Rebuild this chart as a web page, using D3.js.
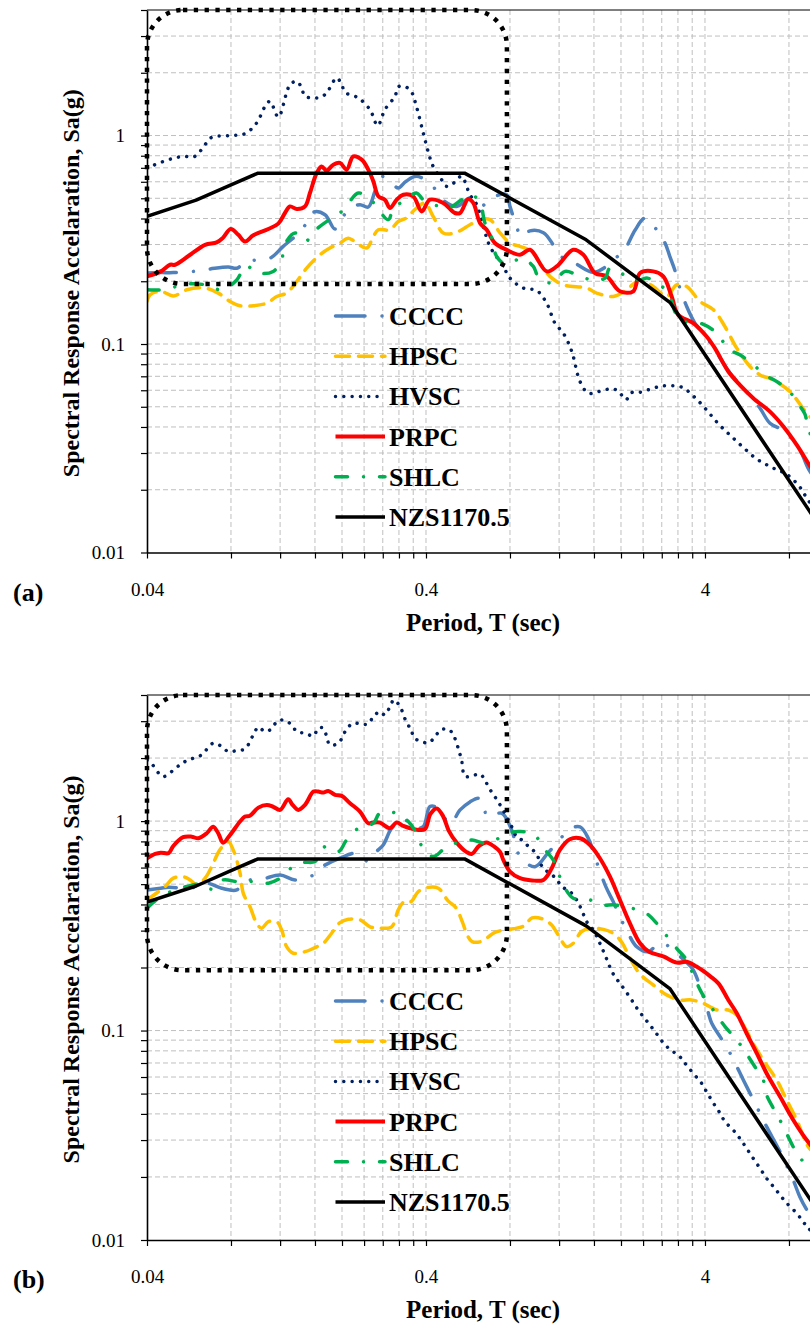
<!DOCTYPE html>
<html><head><meta charset="utf-8">
<script src="https://cdn.jsdelivr.net/npm/d3@7/dist/d3.min.js"></script>
<style>body{margin:0;background:#fff;} svg{display:block;}</style>
</head><body>
<svg id="c" width="810" height="1326"></svg>
<script>
// ---------- DATA ----------
const seriesNames = ["CCCC", "HPSC", "HVSC", "PRPC", "SHLC", "NZS1170.5"];
const periodTickLabels = ["0.04", "0.4", "4"];
const saTickLabels = ["0.01", "0.1", "1"];
const periodTickValues = [0.04, 0.4, 4];
const saTickValues = [0.01, 0.1, 1];
const xTitle = "Period, T (sec)";
const yTitle = "Spectral Response Accelaration, Sa(g)";
// highlighted period / Sa range (dotted rounded box)
const boxPeriod = [0.04, 0.78];
const boxSa = [0.194, 4];

// NZS1170.5 design spectrum (same in both panels)
const nzs = [[0.04,0.41],[0.06,0.49],[0.08,0.58],[0.1,0.66],[0.55,0.66],[1.5,0.316],[3,0.158],[10,0.0142]];

// Panel (a)
const ccccA = [[0.04,0.219],[0.0448,0.220],[0.0497,0.220],[0.0586,0.223],[0.0673,0.229],[0.0782,0.234],[0.0839,0.231],[0.091,0.249],[0.0962,0.252],[0.1104,0.258],[0.1231,0.294],[0.1377,0.334],[0.1494,0.380],[0.158,0.429],[0.1738,0.417],[0.1888,0.356],[0.202,0.409],[0.2137,0.449],[0.232,0.466],[0.2485,0.454],[0.2626,0.540],[0.2775,0.637],[0.3055,0.581],[0.3182,0.560],[0.3395,0.603],[0.370,0.637],[0.419,0.581],[0.455,0.496],[0.515,0.457],[0.575,0.502],[0.625,0.457],[0.706,0.511],[0.778,0.520],[0.80,0.457],[0.834,0.387],[0.881,0.327],[0.9435,0.349],[1.054,0.342],[1.143,0.299],[1.208,0.265],[1.368,0.244],[1.592,0.221],[1.826,0.2427],[1.983,0.271],[2.094,0.294],[2.245,0.351],[2.44,0.402],[2.685,0.353],[2.876,0.305],[2.999,0.261],[3.14,0.220],[3.25,0.1855],[3.44,0.1514],[3.68,0.126],[3.89,0.1145],[4.23,0.0991],[4.92,0.0725],[5.64,0.0591],[6.30,0.0492],[6.84,0.0417],[7.74,0.038],[8.75,0.031],[9.44,0.0249],[10,0.0225]];
const hpscA = [[0.04,0.160],[0.041,0.172],[0.0448,0.179],[0.0497,0.170],[0.0555,0.182],[0.0646,0.1855],[0.072,0.1755],[0.0794,0.160],[0.0862,0.1526],[0.0962,0.1526],[0.1075,0.157],[0.1167,0.169],[0.1266,0.1755],[0.1377,0.1995],[0.1494,0.231],[0.1667,0.268],[0.181,0.2886],[0.1967,0.305],[0.2107,0.322],[0.2257,0.305],[0.2452,0.2886],[0.259,0.328],[0.270,0.353],[0.297,0.353],[0.3182,0.387],[0.3395,0.402],[0.370,0.449],[0.3967,0.475],[0.4245,0.409],[0.461,0.341],[0.508,0.341],[0.575,0.373],[0.625,0.395],[0.678,0.395],[0.737,0.341],[0.80,0.305],[0.869,0.294],[0.957,0.278],[1.024,0.244],[1.112,0.211],[1.242,0.1923],[1.507,0.1855],[1.637,0.1755],[1.876,0.169],[2.094,0.182],[2.34,0.203],[2.611,0.1888],[2.915,0.169],[3.165,0.1923],[3.44,0.1888],[3.84,0.160],[4.29,0.146],[4.72,0.121],[5.2,0.0955],[5.8,0.078],[6.3,0.0711],[7.03,0.0673],[8.07,0.0591],[9.26,0.0466],[10,0.042]];
const hvscA = [[0.04,0.699],[0.0478,0.766],[0.0539,0.794],[0.0594,0.794],[0.0646,0.904],[0.0682,0.980],[0.0782,0.999],[0.0898,1.021],[0.0989,1.149],[0.106,1.38],[0.1104,1.459],[0.1182,1.228],[0.1266,1.602],[0.1302,1.755],[0.1377,1.82],[0.1434,1.692],[0.1474,1.542],[0.169,1.532],[0.1786,1.648],[0.1914,1.89],[0.1996,1.755],[0.205,1.612],[0.2288,1.515],[0.252,1.331],[0.2685,1.116],[0.285,1.331],[0.3097,1.542],[0.3182,1.711],[0.3342,1.723],[0.3537,1.63],[0.370,1.372],[0.391,1.029],[0.4133,0.781],[0.4245,0.711],[0.455,0.614],[0.474,0.570],[0.503,0.592],[0.536,0.637],[0.575,0.520],[0.608,0.466],[0.642,0.366],[0.678,0.294],[0.757,0.2355],[0.80,0.207],[0.893,0.1855],[0.997,0.1806],[1.083,0.157],[1.159,0.126],[1.242,0.1128],[1.312,0.0973],[1.349,0.0871],[1.426,0.0661],[1.527,0.0581],[1.659,0.0591],[1.876,0.061],[1.983,0.0581],[2.084,0.054],[2.183,0.0585],[2.339,0.0587],[2.685,0.0621],[2.876,0.063],[3.30,0.0621],[3.68,0.0554],[4.05,0.0483],[4.47,0.0414],[4.96,0.0362],[5.49,0.0319],[6.13,0.0281],[6.94,0.0256],[7.89,0.0236],[8.75,0.0206],[9.46,0.0175],[10,0.0165]];
const prpcA = [[0.04,0.211],[0.0448,0.223],[0.0484,0.240],[0.0504,0.240],[0.0571,0.268],[0.0646,0.299],[0.0711,0.307],[0.0747,0.322],[0.0798,0.356],[0.085,0.334],[0.0898,0.310],[0.0962,0.332],[0.1089,0.356],[0.1182,0.378],[0.1249,0.425],[0.1302,0.457],[0.1377,0.444],[0.1474,0.457],[0.1535,0.530],[0.1623,0.661],[0.169,0.711],[0.1762,0.679],[0.1861,0.725],[0.1967,0.739],[0.2078,0.686],[0.2195,0.794],[0.2353,0.766],[0.2485,0.686],[0.259,0.603],[0.270,0.511],[0.285,0.492],[0.297,0.449],[0.314,0.492],[0.3315,0.520],[0.360,0.511],[0.386,0.4325],[0.4133,0.492],[0.461,0.475],[0.508,0.425],[0.530,0.425],[0.567,0.496],[0.591,0.475],[0.625,0.380],[0.660,0.353],[0.706,0.305],[0.778,0.283],[0.869,0.268],[0.9435,0.283],[1.083,0.223],[1.176,0.2355],[1.349,0.283],[1.466,0.268],[1.614,0.219],[1.778,0.211],[1.983,0.179],[2.213,0.179],[2.34,0.219],[2.611,0.223],[2.835,0.211],[3.039,0.169],[3.206,0.138],[3.631,0.126],[4.054,0.1086],[4.34,0.0955],[4.85,0.0738],[5.33,0.0637],[5.96,0.055],[6.84,0.0474],[7.64,0.0402],[8.53,0.0328],[9.38,0.0268],[10,0.0235]];
const shlcA = [[0.04,0.182],[0.0448,0.182],[0.0511,0.1888],[0.0571,0.1945],[0.0646,0.1923],[0.0742,0.182],[0.0839,0.203],[0.0905,0.2374],[0.0995,0.219],[0.1133,0.223],[0.1213,0.2537],[0.1256,0.305],[0.1357,0.341],[0.1474,0.310],[0.1623,0.356],[0.1837,0.402],[0.1967,0.425],[0.2124,0.480],[0.2288,0.530],[0.252,0.496],[0.293,0.395],[0.3054,0.449],[0.3315,0.483],[0.370,0.530],[0.391,0.492],[0.437,0.461],[0.481,0.449],[0.537,0.492],[0.583,0.520],[0.625,0.475],[0.651,0.380],[0.678,0.347],[0.717,0.263],[0.778,0.240],[0.881,0.258],[0.970,0.2355],[1.010,0.211],[1.129,0.196],[1.26,0.223],[1.387,0.215],[1.57,0.203],[1.753,0.207],[1.826,0.231],[2.05,0.215],[2.34,0.203],[2.49,0.207],[2.92,0.179],[3.25,0.1306],[3.84,0.126],[4.41,0.1128],[4.85,0.0948],[5.33,0.0887],[5.82,0.0819],[6.57,0.0711],[7.23,0.0661],[7.94,0.0603],[8.64,0.0516],[9.12,0.0462],[9.44,0.0381],[10,0.034]];

// Panel (b)
const ccccB = [[0.04,0.469],[0.0448,0.478],[0.0478,0.4835],[0.0571,0.478],[0.0655,0.505],[0.0741,0.478],[0.0839,0.469],[0.0885,0.514],[0.1044,0.530],[0.120,0.553],[0.1357,0.524],[0.158,0.553],[0.1667,0.596],[0.1967,0.665],[0.2257,0.703],[0.2485,0.641],[0.265,0.713],[0.281,0.769],[0.3013,0.925],[0.3315,1.032],[0.360,0.925],[0.391,0.941],[0.4133,1.173],[0.441,1.156],[0.488,0.97],[0.530,1.131],[0.575,1.235],[0.616,1.286],[0.64,1.239],[0.664,1.051],[0.747,1.091],[0.811,0.908],[0.869,0.677],[0.983,0.606],[1.095,0.705],[1.192,0.798],[1.302,0.913],[1.426,0.938],[1.524,0.832],[1.626,0.653],[1.766,0.485],[1.876,0.4126],[1.995,0.343],[2.123,0.291],[2.276,0.2516],[2.505,0.238],[2.669,0.2535],[2.835,0.261],[3.124,0.237],[3.42,0.2127],[3.63,0.1947],[4.05,0.130],[4.23,0.1083],[4.53,0.0935],[4.92,0.078],[5.49,0.0581],[5.80,0.0502],[6.21,0.0418],[6.65,0.0348],[7.43,0.0264],[8.29,0.0193],[8.75,0.0161],[9.44,0.0134],[10,0.0122]];
const hpscB = [[0.04,0.42],[0.0464,0.487],[0.0497,0.534],[0.0539,0.543],[0.0571,0.524],[0.0604,0.496],[0.0646,0.534],[0.0682,0.606],[0.073,0.729],[0.0782,0.798],[0.0815,0.729],[0.0862,0.564],[0.0885,0.453],[0.0935,0.391],[0.0989,0.325],[0.1029,0.308],[0.1089,0.331],[0.1167,0.331],[0.1216,0.302],[0.1266,0.2516],[0.1338,0.234],[0.1474,0.238],[0.158,0.247],[0.1714,0.261],[0.1836,0.2915],[0.1967,0.3275],[0.2107,0.34],[0.232,0.3375],[0.252,0.313],[0.2735,0.308],[0.3013,0.313],[0.3182,0.377],[0.3342,0.4126],[0.3537,0.4126],[0.3755,0.461],[0.4074,0.4825],[0.4425,0.478],[0.48,0.416],[0.5125,0.385],[0.54,0.33],[0.564,0.283],[0.585,0.266],[0.630,0.266],[0.706,0.294],[0.766,0.302],[0.823,0.306],[0.90,0.316],[0.96,0.345],[1.054,0.34],[1.129,0.319],[1.192,0.286],[1.277,0.2516],[1.349,0.261],[1.445,0.297],[1.57,0.308],[1.729,0.304],[1.876,0.291],[2.01,0.265],[2.153,0.222],[2.34,0.186],[2.611,0.165],[2.915,0.148],[3.25,0.14],[3.58,0.14],[3.94,0.135],[4.41,0.1254],[4.85,0.1254],[5.20,0.1187],[5.57,0.1026],[6.04,0.0838],[6.65,0.0685],[7.23,0.0581],[7.85,0.0466],[8.53,0.0374],[9.12,0.030],[9.38,0.0279],[10,0.0255]];
const hvscB = [[0.04,1.95],[0.0416,1.875],[0.0457,1.632],[0.0511,1.809],[0.0547,1.923],[0.0586,1.996],[0.0628,2.07],[0.0691,2.355],[0.0741,2.27],[0.0782,2.147],[0.0839,2.171],[0.0898,2.213],[0.0962,2.58],[0.1003,2.81],[0.106,2.675],[0.1125,2.777],[0.1167,2.986],[0.1238,3.04],[0.132,2.88],[0.1377,2.675],[0.1474,2.63],[0.158,2.55],[0.1644,2.777],[0.1714,2.777],[0.1762,2.532],[0.181,2.31],[0.194,2.355],[0.2078,2.75],[0.2195,2.935],[0.2353,2.90],[0.2485,2.91],[0.259,3.155],[0.2735,3.33],[0.285,3.21],[0.297,3.52],[0.307,3.79],[0.3228,3.52],[0.3395,2.986],[0.3537,2.726],[0.3635,2.49],[0.386,2.40],[0.4074,2.36],[0.431,2.524],[0.449,2.71],[0.481,2.75],[0.501,2.58],[0.515,2.355],[0.526,2.147],[0.537,1.95],[0.552,1.635],[0.591,1.652],[0.625,1.68],[0.651,1.564],[0.676,1.425],[0.706,1.309],[0.737,1.195],[0.778,1.051],[0.811,0.942],[0.845,0.843],[0.888,0.807],[0.938,0.75],[0.991,0.703],[1.052,0.596],[1.112,0.564],[1.176,0.528],[1.225,0.487],[1.312,0.461],[1.387,0.42],[1.445,0.377],[1.507,0.331],[1.592,0.302],[1.68,0.261],[1.778,0.219],[1.826,0.2006],[1.90,0.181],[1.983,0.168],[2.066,0.156],[2.183,0.140],[2.305,0.1254],[2.457,0.1124],[2.649,0.0988],[2.876,0.0854],[3.078,0.0793],[3.25,0.075],[3.39,0.0698],[3.63,0.0625],[3.89,0.056],[4.05,0.0511],[4.29,0.045],[4.53,0.0403],[4.72,0.0367],[5.05,0.0335],[5.33,0.0306],[5.64,0.0274],[5.96,0.0245],[6.30,0.022],[6.65,0.0197],[7.03,0.018],[7.43,0.0164],[7.85,0.015],[8.53,0.0134],[9.0,0.0122],[9.38,0.0114],[10,0.0105]];
const prpcB = [[0.04,0.665],[0.0428,0.697],[0.0448,0.707],[0.0478,0.703],[0.0497,0.761],[0.0539,0.838],[0.0578,0.843],[0.0611,0.828],[0.0655,0.875],[0.0691,0.941],[0.072,0.875],[0.075,0.789],[0.0794,0.859],[0.0862,0.995],[0.0898,1.051],[0.0935,1.06],[0.1003,1.16],[0.1075,1.195],[0.1134,1.17],[0.120,1.131],[0.1283,1.272],[0.133,1.195],[0.1394,1.131],[0.1474,1.195],[0.158,1.383],[0.1644,1.383],[0.1714,1.368],[0.1786,1.393],[0.1888,1.334],[0.1996,1.32],[0.2137,1.218],[0.232,1.11],[0.2485,0.977],[0.259,0.984],[0.2735,0.984],[0.297,0.925],[0.314,0.984],[0.3315,0.948],[0.3506,0.925],[0.3755,0.908],[0.3967,0.915],[0.415,1.082],[0.437,1.15],[0.46,1.059],[0.483,0.898],[0.516,0.787],[0.558,0.713],[0.583,0.697],[0.620,0.761],[0.660,0.791],[0.701,0.757],[0.737,0.713],[0.757,0.653],[0.80,0.574],[0.869,0.534],[0.96,0.521],[1.054,0.524],[1.129,0.596],[1.208,0.729],[1.312,0.819],[1.426,0.828],[1.548,0.769],[1.68,0.665],[1.826,0.543],[1.983,0.42],[2.153,0.325],[2.34,0.261],[2.52,0.238],[2.835,0.226],[3.17,0.211],[3.44,0.213],[3.73,0.202],[4.17,0.182],[4.47,0.168],[4.85,0.140],[5.20,0.121],[5.64,0.097],[6.13,0.078],[6.65,0.0625],[7.43,0.0484],[8.29,0.0374],[9.26,0.030],[10,0.0265]];
const shlcB = [[0.04,0.384],[0.0448,0.436],[0.0504,0.469],[0.0555,0.487],[0.0637,0.501],[0.0682,0.473],[0.075,0.524],[0.0839,0.514],[0.0962,0.514],[0.1089,0.505],[0.120,0.534],[0.132,0.600],[0.1452,0.634],[0.160,0.641],[0.1738,0.755],[0.194,0.715],[0.2078,0.813],[0.2288,0.925],[0.259,0.977],[0.2735,1.091],[0.314,1.091],[0.3457,0.995],[0.370,0.875],[0.39,0.742],[0.4245,0.677],[0.468,0.742],[0.527,0.796],[0.585,0.813],[0.651,0.785],[0.717,0.819],[0.78,0.875],[0.857,0.891],[0.97,0.869],[1.068,0.729],[1.143,0.653],[1.20,0.553],[1.26,0.478],[1.349,0.4285],[1.513,0.425],[1.706,0.398],[1.90,0.398],[2.183,0.384],[2.47,0.362],[2.685,0.325],[2.915,0.283],[3.165,0.247],[3.48,0.2127],[3.63,0.1843],[3.93,0.148],[4.28,0.1254],[4.72,0.1044],[5.20,0.0902],[5.57,0.0793],[6.04,0.0672],[6.47,0.0581],[6.65,0.0493],[7.03,0.0426],[7.53,0.0361],[8.41,0.0269],[9.12,0.0232],[10,0.021]];

// ---------- STYLE ----------
const styles = {
  "CCCC":      {color:"#4F81BD", width:3.5, dash:"29.5,17,0.01,17", cap:"round", curve:true},
  "HPSC":      {color:"#FFC000", width:3.5, dash:"14,9", cap:"round", curve:true},
  "HVSC":      {color:"#002060", width:3.5, dash:"0.01,8.3", cap:"round", curve:true},
  "PRPC":      {color:"#FF0000", width:4, dash:null, cap:"butt", curve:true},
  "SHLC":      {color:"#00B050", width:3.5, dash:"12,16,0.01,16", cap:"round", curve:true},
  "NZS1170.5": {color:"#000000", width:3.5, dash:null, cap:"butt", curve:false}
};
const serif = "'Liberation Serif','Times New Roman',Times,serif";

const panels = [
  {id:"a", label:"(a)", top:10, bottom:552.5, data:[ccccA,hpscA,hvscA,prpcA,shlcA,nzs]},
  {id:"b", label:"(b)", top:695, bottom:1240, data:[ccccB,hpscB,hvscB,prpcB,shlcB,nzs]}
];

const svg = d3.select("#c");
const plotLeft = 147, plotRight = 816;

// grid values
const gridX = [], gridY = [];
periodTickValues.forEach(b => { for (let k = 1; k < 10; k++) { const v = +(b*k).toPrecision(6); if (v < 10) gridX.push(v); } });
saTickValues.forEach(b => { for (let k = 1; k < 10; k++) { const v = +(b*k).toPrecision(6); if (v <= 4) gridY.push(v); } });

panels.forEach(p => {
  const x = d3.scaleLog().domain([0.04, 10]).range([plotLeft, plotRight]);
  const y = d3.scaleLog().domain([0.01, 4]).range([p.bottom, p.top]);
  const g = svg.append("g");

  // clip
  const clipId = "clip-" + p.id;
  svg.append("defs").append("clipPath").attr("id", clipId)
    .append("rect").attr("x", plotLeft).attr("y", p.top)
    .attr("width", plotRight - plotLeft).attr("height", p.bottom - p.top);

  // gridlines
  const grid = g.append("g").attr("stroke", "#bfbfbf").attr("stroke-width", 1).attr("stroke-dasharray", "5,3");
  grid.selectAll("line.gx").data(gridX.filter(v => v > 0.04)).join("line")
    .attr("x1", d => x(d)).attr("x2", d => x(d)).attr("y1", p.top).attr("y2", p.bottom);
  grid.selectAll("line.gy").data(gridY.filter(v => v > 0.01 && v < 4)).join("line")
    .attr("y1", d => y(d)).attr("y2", d => y(d)).attr("x1", plotLeft).attr("x2", plotRight);

  // series
  const sg = g.append("g").attr("clip-path", `url(#${clipId})`);
  p.data.forEach((arr, i) => {
    const st = styles[seriesNames[i]];
    const line = d3.line().x(d => x(d[0])).y(d => y(d[1]))
      .curve(st.curve ? d3.curveCatmullRom.alpha(0.5) : d3.curveLinear);
    sg.append("path").attr("d", line(arr)).attr("fill", "none")
      .attr("stroke", st.color).attr("stroke-width", st.width)
      .attr("stroke-linecap", st.cap).attr("stroke-linejoin", "round")
      .attr("stroke-dasharray", st.dash);
  });

  // top border
  g.append("line").attr("x1", plotLeft).attr("x2", plotRight).attr("y1", p.top).attr("y2", p.top)
    .attr("stroke", "#000").attr("stroke-width", 1);

  // dotted rounded box
  g.append("rect")
    .attr("x", x(boxPeriod[0])).attr("y", y(boxSa[1]))
    .attr("width", x(boxPeriod[1]) - x(boxPeriod[0]))
    .attr("height", y(boxSa[0]) - y(boxSa[1]))
    .attr("rx", 36).attr("ry", 36)
    .attr("fill", "none").attr("stroke", "#000").attr("stroke-width", 4.5)
    .attr("stroke-dasharray", "4.3,6.5");

  // axes
  const yAxis = d3.axisLeft(y).tickValues(gridY).tickSize(6).tickSizeOuter(0).tickPadding(16)
    .tickFormat(d => { const i = saTickValues.indexOf(d); return i >= 0 ? saTickLabels[i] : ""; });
  const ya = g.append("g").attr("transform", `translate(${plotLeft},0)`).call(yAxis);
  ya.select(".domain").attr("stroke", "#000").attr("stroke-width", 1.6);
  ya.selectAll(".tick line").attr("stroke", "#000").attr("stroke-width", 1.2);
  ya.selectAll("text").attr("font-family", serif).attr("font-size", 19).attr("fill", "#000");

  const xAxis = d3.axisBottom(x).tickValues(gridX).tickSize(6).tickSizeOuter(0)
    .tickFormat(d => { const i = periodTickValues.indexOf(d); return i >= 0 ? periodTickLabels[i] : ""; });
  const xa = g.append("g").attr("transform", `translate(0,${p.bottom})`).call(xAxis);
  xa.select(".domain").attr("stroke", "#000").attr("stroke-width", 1.6);
  xa.selectAll(".tick line").attr("stroke", "#000").attr("stroke-width", 1.2);
  xa.selectAll("text").attr("font-family", serif).attr("font-size", 19).attr("fill", "#000")
    .attr("y", 37).attr("dy", "0.34em");

  // titles
  g.append("text").attr("x", 483).attr("y", p.bottom + 78).attr("text-anchor", "middle")
    .attr("font-family", serif).attr("font-weight", "bold").attr("font-size", 25).text(xTitle);
  g.append("text").attr("transform", `translate(79,${(p.top + p.bottom) / 2 + 2}) rotate(-90)`)
    .attr("text-anchor", "middle").attr("font-family", serif).attr("font-weight", "bold")
    .attr("font-size", 24).text(yTitle);
  g.append("text").attr("x", 13).attr("y", p.bottom + 48)
    .attr("font-family", serif).attr("font-weight", "bold").attr("font-size", 26).text(p.label);

  // legend
  const lg = g.append("g");
  seriesNames.forEach((name, i) => {
    const st = styles[name];
    const cy = p.top + 306 + i * 40.2;
    lg.append("line").attr("x1", 335.5).attr("x2", 385).attr("y1", cy).attr("y2", cy)
      .attr("stroke", st.color).attr("stroke-width", st.width)
      .attr("stroke-linecap", st.cap).attr("stroke-dasharray", st.dash);
    lg.append("text").attr("x", 389).attr("y", cy + 9)
      .attr("font-family", serif).attr("font-weight", "bold").attr("font-size", 26).text(name);
  });
});
</script>
</body></html>
